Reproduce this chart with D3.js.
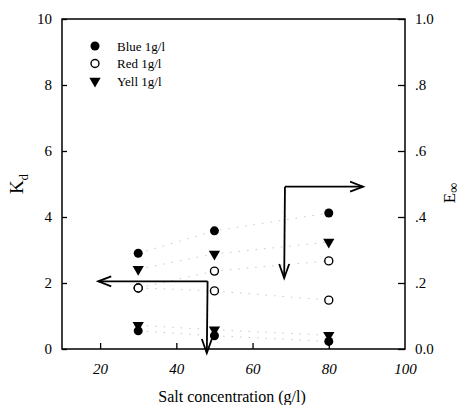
<!DOCTYPE html>
<html><head><meta charset="utf-8">
<script src="https://cdn.jsdelivr.net/npm/d3@7"></script>
<style>body{margin:0;background:#fff}</style>
</head><body>
<svg id="c" width="462" height="405"></svg>
<script>
const salt = [30, 50, 80];
// E-infinity (right axis)
const blueE = [0.29, 0.358, 0.412];
const yellE = [0.242, 0.288, 0.324];
const redE  = [0.185, 0.236, 0.267];
// Kd (left axis)
const redKd  = [1.85, 1.76, 1.48];
const yellKd = [0.72, 0.58, 0.42];
const blueKd = [0.55, 0.40, 0.23];
const xTicks = [20, 40, 60, 80, 100];
const yTicks = [0, 2, 4, 6, 8, 10];
const y2Ticks = [0, 0.2, 0.4, 0.6, 0.8, 1.0];
const legend = [
  {label: "Blue 1g/l", sym: "fill"},
  {label: "Red 1g/l", sym: "open"},
  {label: "Yell 1g/l", sym: "tri"}
];

const svg = d3.select("#c");
const L = 62, R = 405, T = 19, B = 349;
const x = d3.scaleLinear().domain([10, 100]).range([L, R]);
const y = d3.scaleLinear().domain([0, 10]).range([B, T]);
const y2 = d3.scaleLinear().domain([0, 1]).range([B, T]);
const font = "Liberation Serif, Times New Roman, serif";

// faint dotted connecting lines
const series = [
  {v: blueE, s: y2, sym: "fill"},
  {v: yellE, s: y2, sym: "tri"},
  {v: redE, s: y2, sym: "open"},
  {v: redKd, s: y, sym: "open"},
  {v: yellKd, s: y, sym: "tri"},
  {v: blueKd, s: y, sym: "fill"}
];
const line = (sc) => d3.line().x((d, i) => x(salt[i])).y(d => sc(d));
series.forEach(sr => {
  svg.append("path").attr("d", line(sr.s)(sr.v)).attr("fill", "none")
    .attr("stroke", "#c8c8c8").attr("stroke-width", 1).attr("stroke-dasharray", "1.5,7");
});

// frame
svg.append("rect").attr("x", L).attr("y", T).attr("width", R - L).attr("height", B - T)
  .attr("fill", "none").attr("stroke", "#000").attr("stroke-width", 1.5);

// axes with inward ticks
const gx = svg.append("g").attr("transform", `translate(0,${B})`)
  .call(d3.axisBottom(x).tickValues(xTicks).tickSize(-6).tickPadding(14).tickFormat(d3.format("d")));
const gy = svg.append("g").attr("transform", `translate(${L},0)`)
  .call(d3.axisLeft(y).tickValues(yTicks).tickSize(-5).tickPadding(10).tickFormat(d3.format("d")));
const gy2 = svg.append("g").attr("transform", `translate(${R},0)`)
  .call(d3.axisRight(y2).tickValues(y2Ticks).tickSize(-7).tickPadding(10)
    .tickFormat(d => d === 0 ? "0.0" : d === 1 ? "1.0" : d3.format(".1f")(d).replace(/^0/, "")));
[gx, gy, gy2].forEach(g => {
  g.select(".domain").remove();
  g.selectAll("line").attr("stroke", "#000").attr("stroke-width", 1.3);
  g.selectAll("text").attr("font-family", font).attr("font-size", 15).attr("fill", "#000");
});
gx.selectAll("text").attr("font-style", "italic");
gx.selectAll(".tick").filter(d => d === 100).select("line").remove();

// titles
svg.append("text").attr("x", 232).attr("y", 402).attr("text-anchor", "middle")
  .attr("font-family", font).attr("font-size", 16).text("Salt concentration (g/l)");
const ky = svg.append("text").attr("transform", "translate(23,184) rotate(-90)")
  .attr("text-anchor", "middle").attr("font-family", font).attr("font-size", 19);
ky.append("tspan").text("K");
ky.append("tspan").attr("font-size", 13).attr("dy", 5).text("d");
const ey = svg.append("text").attr("transform", "translate(455,193) rotate(-90)")
  .attr("text-anchor", "middle").attr("font-family", font).attr("font-size", 17);
ey.append("tspan").text("E");
ey.append("tspan").attr("font-size", 14).attr("dy", 3).text("∞");

// symbols
function drawSym(g, sym, cx, cy) {
  if (sym === "fill") g.append("circle").attr("cx", cx).attr("cy", cy).attr("r", 4.5).attr("fill", "#000");
  else if (sym === "open") g.append("circle").attr("cx", cx).attr("cy", cy).attr("r", 4)
    .attr("fill", "#fff").attr("stroke", "#000").attr("stroke-width", 1.4);
  else g.append("path").attr("d", d3.symbol().type(d3.symbolTriangle).size(55)())
    .attr("transform", `translate(${cx},${cy}) rotate(180)`).attr("fill", "#000");
}
const pts = svg.append("g");
series.forEach(sr => sr.v.forEach((v, i) => drawSym(pts, sr.sym, x(salt[i]), sr.s(v))));

// legend
legend.forEach((d, i) => {
  const ly = 46 + i * 17.5;
  drawSym(svg, d.sym, 95, ly);
  svg.append("text").attr("x", 117).attr("y", ly + 4.5).attr("font-family", font)
    .attr("font-size", 13).text(d.label);
});

// arrows
function arrow(pts, headDir) {
  svg.append("path").attr("d", d3.line()(pts)).attr("fill", "none")
    .attr("stroke", "#000").attr("stroke-width", 1.8);
  const [ex, ey2] = pts[pts.length - 1];
  let h;
  if (headDir === "right") h = [[ex - 13, ey2 - 5], [ex, ey2], [ex - 13, ey2 + 5]];
  if (headDir === "left") h = [[ex + 13, ey2 - 5], [ex, ey2], [ex + 13, ey2 + 5]];
  if (headDir === "down") h = [[ex - 5, ey2 - 14], [ex, ey2], [ex + 5, ey2 - 14]];
  svg.append("path").attr("d", d3.line()(h)).attr("fill", "none")
    .attr("stroke", "#000").attr("stroke-width", 1.8);
}
// upper arrow: corner at salt 68 / Kd 4.9
arrow([[x(68.5), y(4.92)], [x(89), y(4.92)]], "right");
arrow([[x(68.5), y(4.92)], [x(68.3), y(2.15)]], "down");
// lower arrow: corner at salt 48 / Kd 2.05
arrow([[x(48.2), y(2.05)], [x(19.5), y(2.05)]], "left");
arrow([[x(48.2), y(2.05)], [x(48), y(-0.12)]], "down");
</script>
</body></html>
